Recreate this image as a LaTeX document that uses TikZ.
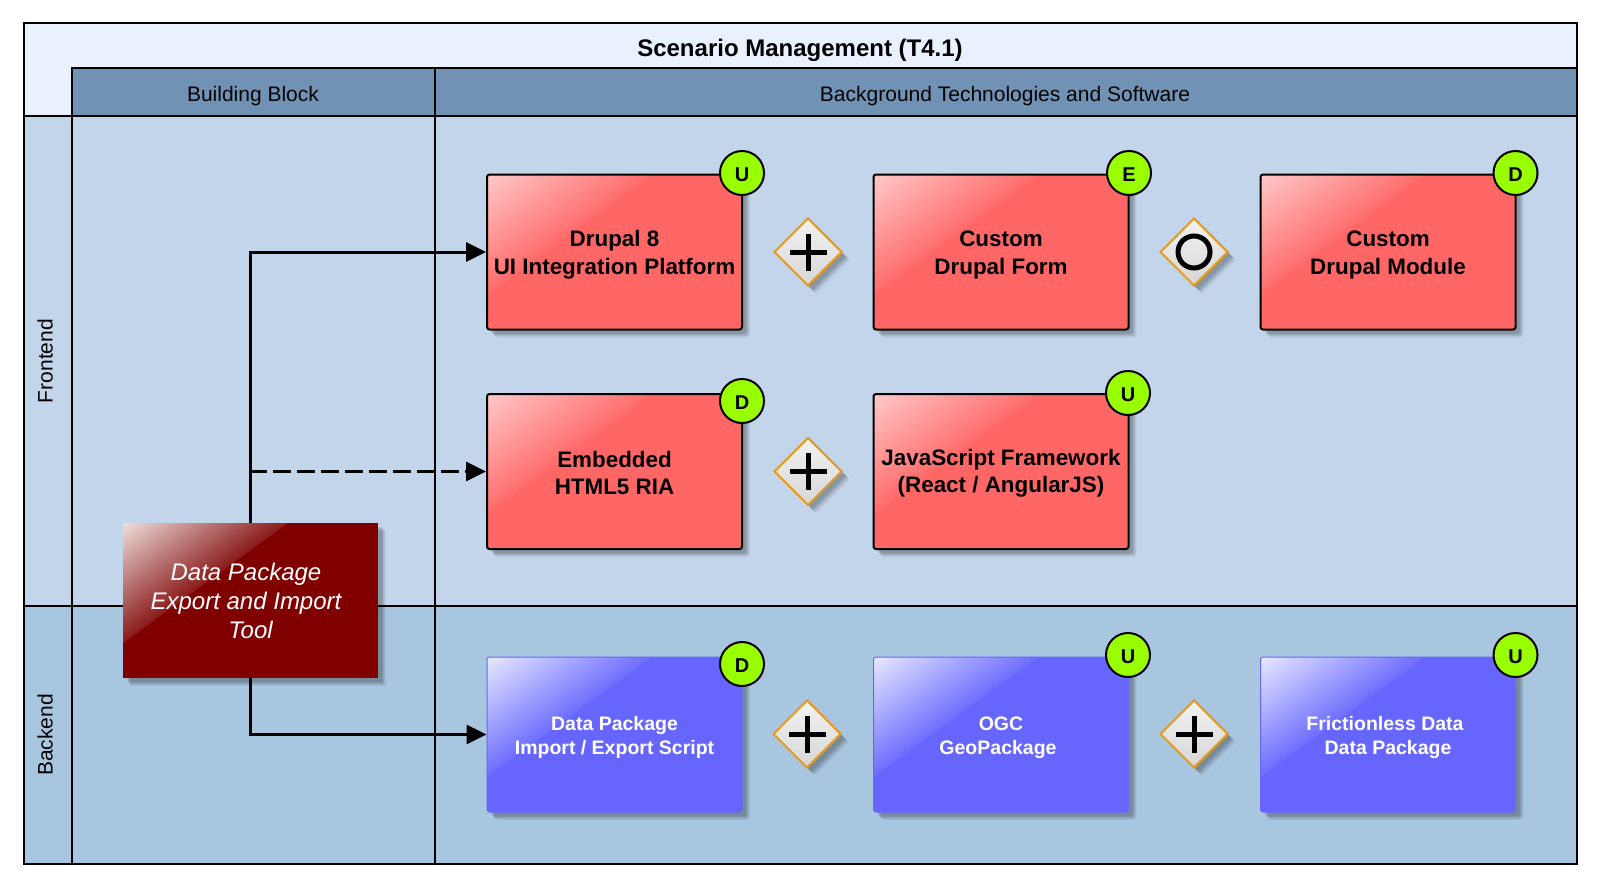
\documentclass[tikz,border=0pt]{standalone}
\usepackage{fontspec}
\setmainfont{Liberation Sans}
\usetikzlibrary{arrows.meta,shadows,shapes.geometric,calc}
\definecolor{frontc}{HTML}{C3D5EB}
\definecolor{backc}{HTML}{A9C6E0}
\definecolor{headc}{HTML}{7092B5}
\definecolor{titlec}{HTML}{EAF1FE}
\definecolor{redc}{HTML}{FF6666}
\definecolor{bluec}{HTML}{6666FF}
\definecolor{darkc}{HTML}{800000}
\definecolor{greenc}{HTML}{99FF00}
\definecolor{orangec}{HTML}{E69A1A}
\definecolor{redA}{HTML}{FFC8C8}
\definecolor{redB}{HTML}{FF6E6E}
\definecolor{blueA}{HTML}{E8E8FF}
\definecolor{blueB}{HTML}{7070FF}
\definecolor{darkA}{HTML}{EEDDDA}
\definecolor{darkB}{HTML}{8C1E1E}
\newcommand\tup[1]{\rule{0pt}{#1}}
\tikzset{
  cell/.style n args={2}{draw=black,line width=2pt,inner sep=0pt,minimum width=#1,minimum height=#2,rectangle},
  softshadow/.style={
    general shadow={shadow xshift=8pt,shadow yshift=-8pt,fill=black,draw=none,opacity=.05},
    general shadow={shadow xshift=7pt,shadow yshift=-7pt,fill=black,draw=none,opacity=.06},
    general shadow={shadow xshift=6pt,shadow yshift=-6pt,fill=black,draw=none,opacity=.07},
    general shadow={shadow xshift=5pt,shadow yshift=-5pt,fill=black,draw=none,opacity=.08},
    general shadow={shadow xshift=4pt,shadow yshift=-4pt,fill=black,draw=none,opacity=.08}},
  gloss/.style n args={2}{path picture={
    \foreach \i in {0,...,39} {
      \pgfmathsetmacro\glw{165*(1-\i/40)}
      \pgfmathsetmacro\glh{120*(1-\i/40)}
      \pgfmathsetmacro\glt{100*\i/39}
      \fill[#1!\glt!#2] (path picture bounding box.north west) -- ++(\glw,0) -- ++(-\glw,\glh) -- cycle;
    }}},
  block/.style={rectangle,inner sep=0pt,minimum width=255pt,minimum height=155pt,align=center,softshadow},
  redbox/.style={block,rounded corners=2.5pt,draw=black,line width=2pt,fill=redc,gloss={redA}{redB},
     font=\fontsize{22.4}{27.5}\selectfont\bfseries},
  bluebox/.style={block,rounded corners=2.5pt,draw=bluec,line width=1pt,fill=bluec,gloss={blueA}{blueB},text=white,
     font=\fontsize{19.5}{24}\selectfont\bfseries},
  toolbox/.style={block,fill=darkc,gloss={darkA}{darkB},text=white,
     font=\fontsize{24}{29}\selectfont\itshape},
  badge/.style={circle,draw=black,line width=2pt,fill=greenc,inner sep=0pt,minimum size=44pt,text height=17pt,text depth=0pt,
     font=\fontsize{20}{20}\selectfont\bfseries},
  gate/.style={diamond,aspect=1,draw=orangec,line width=2pt,inner sep=0pt,minimum size=68pt,
     top color=gray!10,bottom color=gray!32,softshadow},
  plusgate/.style={gate,path picture={
     \draw[black,line width=5pt] ($(path picture bounding box.center)+(-18.5,0)$) -- ($(path picture bounding box.center)+(18.5,0)$);
     \draw[black,line width=5pt] ($(path picture bounding box.center)+(0,-18.5)$) -- ($(path picture bounding box.center)+(0,18.5)$);}},
  circgate/.style={gate,path picture={
     \draw[black,line width=5pt] (path picture bounding box.center) circle[radius=16pt];}},
  wire/.style={draw=black,line width=3pt,-{Triangle[length=20pt,width=19pt]}},
  lanelabel/.style={font=\fontsize{21}{24}\selectfont},
}
\begin{document}
\begin{tikzpicture}[x=1pt,y=-1pt]
\useasboundingbox[fill=white] (0,0) rectangle (1600,886);
\node[cell={1553pt}{841pt},fill=titlec] (frame) at (800.5,443.5) {};
\node[font=\fontsize{24}{28}\selectfont\bfseries] (title) at (800,50) {Scenario Management (T4.1)};
\node[cell={363pt}{48pt},fill=headc] (colA) at (253.5,92) {};
\node[cell={1142pt}{48pt},fill=headc] (colB) at (1006,92) {};
\node[lanelabel] (colAt) at (253,96) {Building Block};
\node[lanelabel] (colBt) at (1005,96) {Background Technologies and Software};
\node[cell={48pt}{490pt},fill=frontc] (laneF) at (48,361) {};
\node[cell={363pt}{490pt},fill=frontc] (f1) at (253.5,361) {};
\node[cell={1142pt}{490pt},fill=frontc] (f2) at (1006,361) {};
\node[cell={48pt}{258pt},fill=backc] (laneB) at (48,735) {};
\node[cell={363pt}{258pt},fill=backc] (b1) at (253.5,735) {};
\node[cell={1142pt}{258pt},fill=backc] (b2) at (1006,735) {};
\node[lanelabel,rotate=90] (laneFt) at (45,361) {Frontend};
\node[lanelabel,rotate=90] (laneBt) at (45,735) {Backend};

\node[redbox] (r11) at (614.5,252) {\tup{22pt}Drupal 8\\UI Integration Platform};
\node[redbox] (r12) at (1001,252) {\tup{22pt}Custom\\Drupal Form};
\node[redbox] (r13) at (1388,252) {\tup{22pt}Custom\\Drupal Module};
\node[redbox] (r21) at (614.5,471.5) {\tup{19pt}Embedded\\HTML5 RIA};
\node[redbox] (r22) at (1001,471.5) {\tup{20pt}JavaScript Framework\\(React / AngularJS)};
\node[bluebox] (b31) at (614.5,734.5) {\tup{20pt}Data Package\\Import / Export Script};
\node[bluebox] (b32) at (1001,734.5) {\tup{20pt}OGC\\GeoPackage\hspace*{6pt}};
\node[bluebox] (b33) at (1388,734.5) {\tup{20pt}Frictionless Data\hspace*{6pt}\\Data Package};

\node[plusgate] (g1) at (808,252) {};
\node[circgate] (g2) at (1194,252) {};
\node[plusgate] (g3) at (808,471.5) {};
\node[plusgate] (g4) at (807,734) {};
\node[plusgate] (g5) at (1194,734) {};

\node[badge] (u1) at (742,173) {U};
\node[badge] (u2) at (1129,173) {E};
\node[badge] (u3) at (1515.5,173) {D};
\node[badge] (u4) at (742,401) {D};
\node[badge] (u5) at (1128,393) {U};
\node[badge] (u6) at (742,664) {D};
\node[badge] (u7) at (1128,655) {U};
\node[badge] (u8) at (1515.5,655) {U};

\node[toolbox] (tool) at (250.5,600.5) {\tup{19pt}Data Package\hspace*{9pt}\\\mbox{Export and Import\kern 9pt}\\Tool};
\draw[wire] (tool.north) |- (r11.west);
\draw[wire,dash pattern=on 18pt off 6pt,dash phase=22.5pt] (tool.north) |- (r21.west);
\draw[wire] (tool.south) |- (b31.west);
\end{tikzpicture}
\end{document}
